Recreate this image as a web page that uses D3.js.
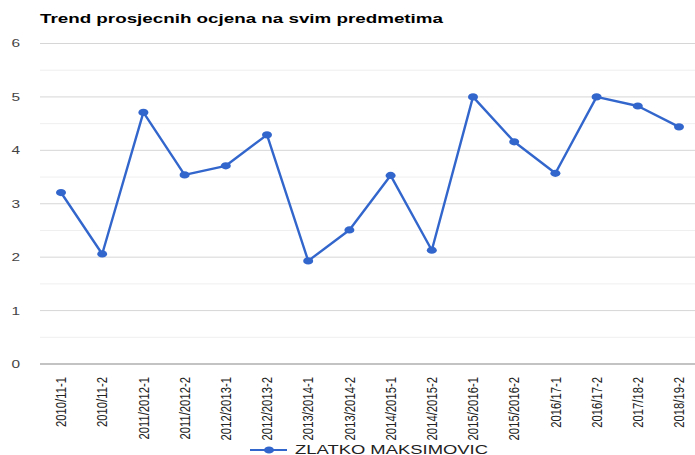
<!DOCTYPE html>
<meta charset="utf-8">
<head>
	<title>Trend prosjecnih ocjena</title>
	<script type="text/javascript" src="https://d3js.org/d3.v7.min.js"></script>
</head>
<style>
	body { margin: 0; background: #fff; }
	text { font-family: "Liberation Sans", Arial, sans-serif; }
</style>
<body>
<div id="chart"></div>
<script>
	// data
	var semesters = ["2010/11-1", "2010/11-2", "2011/2012-1", "2011/2012-2", "2012/2013-1",
		"2012/2013-2", "2013/2014-1", "2013/2014-2", "2014/2015-1", "2014/2015-2",
		"2015/2016-1", "2015/2016-2", "2016/17-1", "2016/17-2", "2017/18-2", "2018/19-2"];
	var averages = [3.21, 2.06, 4.71, 3.54, 3.71, 4.29, 1.93, 2.51, 3.53, 2.13,
		5.0, 4.16, 3.57, 5.0, 4.83, 4.44];
	var yTicks = [0, 1, 2, 3, 4, 5, 6];
	var yMinor = [0.5, 1.5, 2.5, 3.5, 4.5, 5.5];
	var seriesName = "ZLATKO MAKSIMOVIC";
	var chartTitle = "Trend prosjecnih ocjena na svim predmetima";

	var w = 695, h = 455;
	var blue = "#3366cc";
	var sx = 1.4; // the picture is stretched sideways

	var svg = d3.select("#chart").append("svg")
		.attr("width", w).attr("height", h);

	var x = d3.scalePoint().domain(semesters).range([40.4, 699.6]).padding(0.5);
	var y = d3.scaleLinear().domain([0, 6]).range([364, 43.5]);

	// title
	svg.append("text")
		.attr("x", 40).attr("y", 23)
		.attr("font-size", 13).attr("font-weight", "bold")
		.attr("fill", "#000")
		.attr("textLength", 403).attr("lengthAdjust", "spacingAndGlyphs")
		.text(chartTitle);

	// gridlines
	svg.selectAll(".minor").data(yMinor).enter().append("line")
		.attr("x1", 40).attr("x2", w)
		.attr("y1", d => y(d)).attr("y2", d => y(d))
		.attr("stroke", "#efefef").attr("stroke-width", 1);
	svg.selectAll(".major").data(yTicks.filter(d => d > 0)).enter().append("line")
		.attr("x1", 40).attr("x2", w)
		.attr("y1", d => y(d)).attr("y2", d => y(d))
		.attr("stroke", "#d6d6d6").attr("stroke-width", 1);
	svg.append("line")
		.attr("x1", 40).attr("x2", w)
		.attr("y1", y(0)).attr("y2", y(0))
		.attr("stroke", "#888").attr("stroke-width", 1.2);

	// y labels
	svg.selectAll(".ylab").data(yTicks).enter().append("text")
		.attr("transform", d => "translate(20," + y(d) + ") scale(" + sx + ",1)")
		.attr("text-anchor", "end").attr("dy", "0.36em")
		.attr("font-size", 11).attr("fill", "#444")
		.text(d => d);

	// x labels
	svg.selectAll(".xlab").data(semesters).enter().append("text")
		.attr("transform", d => "translate(" + x(d) + ",377) rotate(-90) scale(1,1.3)")
		.attr("text-anchor", "end").attr("dy", "0.36em")
		.attr("font-size", 11.3).attr("fill", "#222")
		.text(d => d);

	// line and points
	var line = d3.line().x((d, i) => x(semesters[i])).y(d => y(d));
	svg.append("path")
		.datum(averages)
		.attr("d", line)
		.attr("fill", "none").attr("stroke", blue).attr("stroke-width", 2.4)
		.attr("stroke-linejoin", "round");
	svg.selectAll(".pt").data(averages).enter().append("ellipse")
		.attr("cx", (d, i) => x(semesters[i])).attr("cy", d => y(d))
		.attr("rx", 5).attr("ry", 3.6)
		.attr("fill", blue);

	// legend
	var lg = svg.append("g");
	lg.append("line").attr("x1", 250).attr("x2", 287).attr("y1", 450).attr("y2", 450)
		.attr("stroke", blue).attr("stroke-width", 2.2);
	lg.append("ellipse").attr("cx", 269).attr("cy", 450).attr("rx", 5).attr("ry", 3.6)
		.attr("fill", blue);
	lg.append("text")
		.attr("x", 295).attr("y", 453.5)
		.attr("font-size", 13).attr("fill", "#222")
		.attr("textLength", 193).attr("lengthAdjust", "spacingAndGlyphs")
		.text(seriesName);
</script>
</body>
</html>
